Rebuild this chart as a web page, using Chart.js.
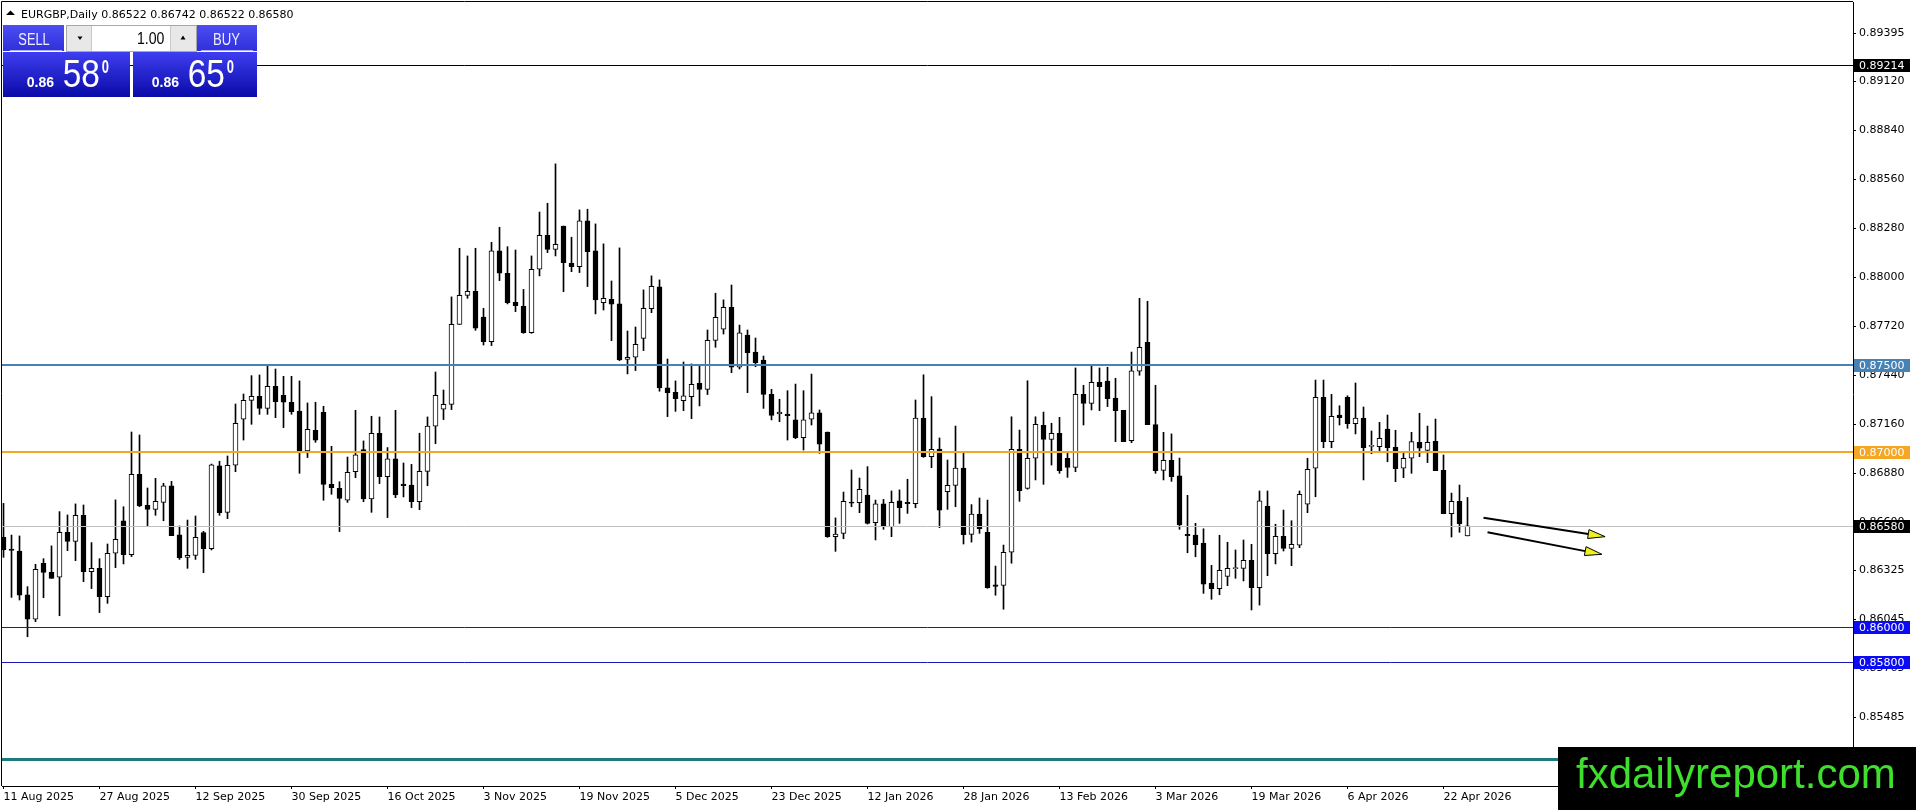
<!DOCTYPE html>
<html>
<head>
<meta charset="utf-8">
<title>EURGBP Daily</title>
<script src="https://cdn.jsdelivr.net/npm/chart.js@4.4.1/dist/chart.umd.min.js"></script>
<style>
  html, body { margin: 0; padding: 0; background: #fff; overflow: hidden; }
  #wrap { position: relative; width: 1916px; height: 810px; }
</style>
</head>
<body>
<div id="wrap"><canvas id="eurgbpChart" width="1916" height="810"></canvas></div>
<script>
// **************************
//    DATA
// **************************
const symbolTitle = "EURGBP,Daily";

const dateLabels = [
    "11 Aug 2025", "27 Aug 2025", "12 Sep 2025", "30 Sep 2025", "16 Oct 2025", "3 Nov 2025",
    "19 Nov 2025", "5 Dec 2025", "23 Dec 2025", "12 Jan 2026", "28 Jan 2026", "13 Feb 2026",
    "3 Mar 2026", "19 Mar 2026", "6 Apr 2026", "22 Apr 2026"
];
const dateLabelBars = [0, 12, 24, 36, 48, 60, 72, 84, 96, 108, 120, 132, 144, 156, 168, 180];

const opens = [
    0.86514, 0.86447, 0.86436, 0.86185, 0.86046, 0.86366, 0.86314, 0.86286, 0.86543, 0.86491,
    0.86640, 0.86318, 0.86337, 0.86175, 0.86423, 0.86608, 0.86415, 0.86874, 0.86697, 0.86674,
    0.86714, 0.86808, 0.86528, 0.86400, 0.86411, 0.86541, 0.86449, 0.86922, 0.86657, 0.86926,
    0.87189, 0.87297, 0.87320, 0.87251, 0.87377, 0.87326, 0.87286, 0.87236, 0.87008, 0.87126,
    0.87229, 0.86817, 0.86794, 0.86726, 0.86889, 0.87015, 0.86733, 0.87109, 0.86861, 0.86962,
    0.86819, 0.86813, 0.86718, 0.86891, 0.87150, 0.87246, 0.87274, 0.87731, 0.87897, 0.87920,
    0.87773, 0.87632, 0.88151, 0.88023, 0.87857, 0.87836, 0.87684, 0.88046, 0.88240, 0.88160,
    0.88293, 0.88080, 0.88061, 0.88322, 0.88151, 0.87855, 0.87874, 0.87848, 0.87531, 0.87543,
    0.87651, 0.87821, 0.87945, 0.87368, 0.87343, 0.87295, 0.87318, 0.87394, 0.87360, 0.87640,
    0.87703, 0.87829, 0.87487, 0.87670, 0.87573, 0.87527, 0.87331, 0.87219, 0.87219, 0.87185,
    0.87083, 0.87189, 0.87225, 0.87116, 0.86518, 0.86537, 0.86716, 0.86712, 0.86756, 0.86598,
    0.86705, 0.86575, 0.86722, 0.86714, 0.86706, 0.87196, 0.86975, 0.87019, 0.86775, 0.86811,
    0.86910, 0.86531, 0.86647, 0.86543, 0.86242, 0.86240, 0.86429, 0.87017, 0.86794, 0.86966,
    0.87154, 0.87074, 0.87109, 0.86966, 0.86914, 0.87331, 0.87280, 0.87400, 0.87407, 0.87310,
    0.87240, 0.87066, 0.87463, 0.87629, 0.87158, 0.86897, 0.86954, 0.86865, 0.86531, 0.86527,
    0.86480, 0.86251, 0.86221, 0.86291, 0.86335, 0.86337, 0.86383, 0.86226, 0.86693, 0.86421,
    0.86520, 0.86451, 0.86470, 0.86703, 0.86909, 0.87314, 0.87061, 0.87213, 0.87314, 0.87163,
    0.87196, 0.87034, 0.87032, 0.87133, 0.87029, 0.86909, 0.86966, 0.87057, 0.87011, 0.87063,
    0.86897, 0.86649, 0.86720, 0.86522
];
const highs = [
    0.86708, 0.86527, 0.86522, 0.86232, 0.86360, 0.86392, 0.86465, 0.86661, 0.86642, 0.86705,
    0.86699, 0.86484, 0.86392, 0.86476, 0.86728, 0.86689, 0.87116, 0.87099, 0.86796, 0.86851,
    0.86823, 0.86834, 0.86579, 0.86613, 0.86636, 0.86548, 0.86933, 0.86949, 0.86979, 0.87276,
    0.87333, 0.87438, 0.87442, 0.87495, 0.87476, 0.87434, 0.87434, 0.87408, 0.87282, 0.87286,
    0.87263, 0.87034, 0.86832, 0.86973, 0.87240, 0.87065, 0.87206, 0.87202, 0.87027, 0.87240,
    0.86939, 0.86931, 0.87109, 0.87202, 0.87459, 0.87356, 0.87888, 0.88166, 0.88122, 0.88166,
    0.87823, 0.88200, 0.88286, 0.88175, 0.88156, 0.87931, 0.88122, 0.88373, 0.88423, 0.88648,
    0.88293, 0.88229, 0.88385, 0.88389, 0.88305, 0.88191, 0.87979, 0.88168, 0.87693, 0.87716,
    0.87928, 0.88008, 0.87985, 0.87533, 0.87408, 0.87516, 0.87505, 0.87495, 0.87699, 0.87909,
    0.87871, 0.87956, 0.87727, 0.87699, 0.87653, 0.87550, 0.87360, 0.87303, 0.87352, 0.87390,
    0.87352, 0.87447, 0.87242, 0.87116, 0.86625, 0.86773, 0.86899, 0.86853, 0.86918, 0.86727,
    0.86731, 0.86779, 0.86785, 0.86846, 0.87299, 0.87443, 0.87318, 0.87082, 0.86956, 0.87150,
    0.87002, 0.86701, 0.86739, 0.86727, 0.86350, 0.86470, 0.87203, 0.87127, 0.87409, 0.87203,
    0.87230, 0.87166, 0.87200, 0.86994, 0.87482, 0.87383, 0.87493, 0.87482, 0.87486, 0.87423,
    0.87240, 0.87573, 0.87880, 0.87863, 0.87383, 0.87114, 0.87105, 0.86967, 0.86754, 0.86594,
    0.86563, 0.86354, 0.86526, 0.86486, 0.86442, 0.86499, 0.86474, 0.86779, 0.86779, 0.86589,
    0.86670, 0.86609, 0.86779, 0.86966, 0.87413, 0.87413, 0.87331, 0.87266, 0.87323, 0.87396,
    0.87259, 0.87122, 0.87171, 0.87213, 0.87126, 0.86996, 0.87114, 0.87223, 0.87150, 0.87190,
    0.86985, 0.86767, 0.86813, 0.86742
];
const lows = [
    0.86400, 0.86171, 0.86156, 0.85946, 0.86032, 0.86169, 0.86280, 0.86066, 0.86438, 0.86381,
    0.86261, 0.86221, 0.86084, 0.86137, 0.86341, 0.86362, 0.86404, 0.86689, 0.86581, 0.86640,
    0.86609, 0.86524, 0.86388, 0.86337, 0.86388, 0.86312, 0.86442, 0.86640, 0.86621, 0.86889,
    0.87070, 0.87160, 0.87217, 0.87217, 0.87198, 0.87141, 0.87217, 0.86880, 0.86970, 0.87057,
    0.86726, 0.86760, 0.86547, 0.86714, 0.86855, 0.86718, 0.86657, 0.86821, 0.86627, 0.86741,
    0.86745, 0.86684, 0.86672, 0.86809, 0.87049, 0.87187, 0.87244, 0.87731, 0.87880, 0.87697,
    0.87613, 0.87610, 0.87981, 0.87848, 0.87804, 0.87680, 0.87680, 0.88008, 0.88141, 0.88122,
    0.87918, 0.88032, 0.88027, 0.87947, 0.87791, 0.87813, 0.87638, 0.87524, 0.87448, 0.87467,
    0.87581, 0.87798, 0.87349, 0.87204, 0.87234, 0.87238, 0.87192, 0.87265, 0.87330, 0.87600,
    0.87676, 0.87455, 0.87476, 0.87341, 0.87489, 0.87251, 0.87185, 0.87175, 0.87070, 0.87078,
    0.87013, 0.87156, 0.86994, 0.86514, 0.86434, 0.86506, 0.86689, 0.86655, 0.86590, 0.86499,
    0.86560, 0.86518, 0.86594, 0.86651, 0.86683, 0.86971, 0.86912, 0.86569, 0.86674, 0.86689,
    0.86476, 0.86487, 0.86537, 0.86223, 0.86183, 0.86103, 0.86366, 0.86720, 0.86789, 0.86842,
    0.86817, 0.86927, 0.86880, 0.86857, 0.86889, 0.87156, 0.87242, 0.87238, 0.87261, 0.87061,
    0.87061, 0.87055, 0.87440, 0.87158, 0.86880, 0.86842, 0.86834, 0.86560, 0.86426, 0.86403,
    0.86194, 0.86160, 0.86186, 0.86238, 0.86280, 0.86265, 0.86099, 0.86127, 0.86295, 0.86362,
    0.86436, 0.86352, 0.86455, 0.86655, 0.86746, 0.87026, 0.87026, 0.87156, 0.87137, 0.87105,
    0.86842, 0.86992, 0.87007, 0.86946, 0.86832, 0.86855, 0.86880, 0.86975, 0.86941, 0.86895,
    0.86649, 0.86516, 0.86543, 0.86522
];
const closes = [
    0.86442, 0.86440, 0.86183, 0.86046, 0.86331, 0.86314, 0.86280, 0.86543, 0.86491, 0.86640,
    0.86318, 0.86337, 0.86175, 0.86423, 0.86503, 0.86415, 0.86874, 0.86693, 0.86674, 0.86720,
    0.86808, 0.86524, 0.86398, 0.86411, 0.86514, 0.86449, 0.86928, 0.86655, 0.86926, 0.87166,
    0.87297, 0.87320, 0.87251, 0.87377, 0.87290, 0.87286, 0.87232, 0.87008, 0.87131, 0.87069,
    0.86817, 0.86798, 0.86737, 0.86886, 0.86985, 0.86733, 0.87109, 0.86861, 0.86962, 0.86756,
    0.86809, 0.86718, 0.86891, 0.87150, 0.87326, 0.87274, 0.87731, 0.87897, 0.87920, 0.87709,
    0.87632, 0.88151, 0.88023, 0.87855, 0.87838, 0.87684, 0.88046, 0.88240, 0.88160, 0.88189,
    0.88084, 0.88061, 0.88322, 0.88147, 0.87871, 0.87880, 0.87846, 0.87528, 0.87543, 0.87617,
    0.87823, 0.87949, 0.87368, 0.87341, 0.87307, 0.87322, 0.87389, 0.87360, 0.87640, 0.87771,
    0.87829, 0.87486, 0.87682, 0.87569, 0.87512, 0.87331, 0.87211, 0.87230, 0.87209, 0.87083,
    0.87185, 0.87225, 0.87046, 0.86518, 0.86533, 0.86720, 0.86709, 0.86789, 0.86594, 0.86705,
    0.86575, 0.86714, 0.86683, 0.86706, 0.87196, 0.86975, 0.87017, 0.86670, 0.86811, 0.86910,
    0.86529, 0.86647, 0.86563, 0.86226, 0.86234, 0.86429, 0.87017, 0.86781, 0.86966, 0.87160,
    0.87074, 0.87109, 0.86895, 0.86914, 0.87331, 0.87280, 0.87400, 0.87375, 0.87306, 0.87238,
    0.87061, 0.87465, 0.87600, 0.87158, 0.86895, 0.86954, 0.86861, 0.86585, 0.86523, 0.86472,
    0.86247, 0.86221, 0.86326, 0.86337, 0.86339, 0.86383, 0.86226, 0.86722, 0.86421, 0.86520,
    0.86451, 0.86474, 0.86760, 0.86903, 0.87314, 0.87061, 0.87206, 0.87198, 0.87163, 0.87196,
    0.87026, 0.87036, 0.87080, 0.87026, 0.86906, 0.86966, 0.87061, 0.87023, 0.87057, 0.86895,
    0.86649, 0.86720, 0.86592, 0.86580
];

// price scale tick values (MT4 style, uneven steps)
const yTickValues = [
    0.89395, 0.89120, 0.88840, 0.88560, 0.88280, 0.88000, 0.87720, 0.87440,
    0.87160, 0.86880, 0.86600, 0.86325, 0.86045, 0.85765, 0.85485
];

// horizontal lines drawn on the chart
const levelPrices = [0.89214, 0.87500, 0.87000, 0.86580, 0.86000, 0.85800, 0.85245];

// trend arrows: [bar, price] start and end
const arrowStarts = [[185.0, 0.86626], [185.5, 0.86543]];
const arrowEnds = [[200.2, 0.86518], [199.8, 0.86417]];

const lotSize = "1.00";
const askPrice = 0.86650;

// **************************
//    STYLE
// **************************
const levelStyles = [
    { color: "#000000", width: 1, box: "#000000" },
    { color: "#4682B4", width: 2, box: "#4682B4" },
    { color: "#F5A623", width: 2, box: "#F5A623" },
    { color: "#C0C0C0", width: 1, box: "#000000" },
    { color: "#1818B8", width: 1, box: "#0A0AF5" },
    { color: "#1818B8", width: 1, box: "#0A0AF5" },
    { color: "#1E7B7B", width: 3, box: null }
];

const BAR_PX = 8;
const xMin = -0.1875;
const xMax = xMin + (1853 - 2) / BAR_PX;
const yMin = 0.8509314;
const yMax = 0.8957314;

Chart.defaults.font.family = "'DejaVu Sans', sans-serif";
Chart.defaults.font.size = 11;
Chart.defaults.color = "#000";

// **************************
//    HELPERS
// **************************
function drawText(ctx, str, x, y, font, color, sx, align) {
    ctx.save();
    ctx.translate(x, y);
    ctx.scale(sx || 1, 1);
    ctx.font = font;
    ctx.fillStyle = color;
    ctx.textAlign = align || "left";
    ctx.textBaseline = "alphabetic";
    ctx.fillText(str, 0, 0);
    ctx.restore();
}

function tri(ctx, pts, color) {
    ctx.beginPath();
    ctx.moveTo(pts[0], pts[1]);
    ctx.lineTo(pts[2], pts[3]);
    ctx.lineTo(pts[4], pts[5]);
    ctx.closePath();
    ctx.fillStyle = color;
    ctx.fill();
}

function splitQuote(price) {
    const s = price.toFixed(5);
    return [s.slice(0, 4), s.slice(4, 6), s.slice(6)];
}

function drawArrow(ctx, x1, y1, x2, y2) {
    const ang = Math.atan2(y2 - y1, x2 - x1);
    const headLen = 17, half = 4.5;
    const bx = x2 - headLen * Math.cos(ang);
    const by = y2 - headLen * Math.sin(ang);
    ctx.strokeStyle = "#000";
    ctx.lineWidth = 2;
    ctx.beginPath();
    ctx.moveTo(x1, y1);
    ctx.lineTo(bx, by);
    ctx.stroke();
    ctx.beginPath();
    ctx.moveTo(x2, y2);
    ctx.lineTo(bx + half * Math.sin(ang), by - half * Math.cos(ang));
    ctx.lineTo(bx - half * Math.sin(ang), by + half * Math.cos(ang));
    ctx.closePath();
    ctx.fillStyle = "#F0F020";
    ctx.fill();
    ctx.lineWidth = 1;
    ctx.stroke();
}

function drawTitle(ctx) {
    const last = opens.length - 1;
    tri(ctx, [6, 15, 15, 15, 10.5, 10.5], "#000");
    const ohlc = [opens[last], highs[last], lows[last], closes[last]].map(v => v.toFixed(5)).join(" ");
    drawText(ctx, symbolTitle + " " + ohlc, 21, 17.5, "11px 'DejaVu Sans'", "#000");
}

function drawTradePanel(ctx) {
    ctx.save();
    // top row buttons
    const btn = ctx.createLinearGradient(0, 25, 0, 51);
    btn.addColorStop(0, "#4d4df2");
    btn.addColorStop(1, "#3030dc");
    ctx.fillStyle = btn;
    ctx.fillRect(3, 25, 61, 26);
    ctx.fillRect(197, 25, 60, 26);
    ctx.strokeStyle = "rgba(190,190,255,0.9)";
    ctx.lineWidth = 1;
    ctx.beginPath();
    ctx.moveTo(10, 50.5); ctx.lineTo(62, 50.5);
    ctx.moveTo(201, 50.5); ctx.lineTo(253, 50.5);
    ctx.stroke();
    drawText(ctx, "SELL", 34, 45, "16px 'Liberation Sans'", "#eef", 0.8, "center");
    drawText(ctx, "BUY", 226.5, 45, "16px 'Liberation Sans'", "#eef", 0.82, "center");

    // lot size spinner
    ctx.fillStyle = "#e8e8e8";
    ctx.fillRect(67, 25, 130, 27);
    ctx.fillStyle = "#fff";
    ctx.fillRect(92, 26, 78, 25);
    ctx.strokeStyle = "#a8a8a8";
    ctx.strokeRect(66.5, 25.5, 130, 26);
    ctx.strokeStyle = "#c8c8c8";
    ctx.beginPath();
    ctx.moveTo(91.5, 26); ctx.lineTo(91.5, 51);
    ctx.moveTo(170.5, 26); ctx.lineTo(170.5, 51);
    ctx.stroke();
    tri(ctx, [77.5, 36.5, 82.5, 36.5, 80, 40], "#000");
    tri(ctx, [180.5, 39.5, 185.5, 39.5, 183, 35.5], "#000");
    drawText(ctx, lotSize, 164.3, 43.5, "16px 'Liberation Sans'", "#000", 0.88, "right");

    // quote boxes
    const q = ctx.createLinearGradient(0, 52, 0, 97);
    q.addColorStop(0, "#3e3ef0");
    q.addColorStop(1, "#0a0aa8");
    ctx.fillStyle = q;
    ctx.fillRect(3, 52, 127, 45);
    ctx.fillRect(133, 52, 124, 45);

    const bid = splitQuote(closes[closes.length - 1]);
    const ask = splitQuote(askPrice);
    [[bid, 26.7], [ask, 151.7]].forEach(([parts, x0]) => {
        drawText(ctx, parts[0], x0, 87.3, "bold 14px 'Liberation Sans'", "#fff");
        drawText(ctx, parts[1], x0 + 36, 87.3, "38px 'Liberation Sans'", "#fff", 0.88);
        drawText(ctx, parts[2], x0 + 75, 73, "bold 18px 'Liberation Sans'", "#fff", 0.72);
    });
    ctx.restore();
}

function drawWatermark(ctx) {
    ctx.fillStyle = "#000";
    ctx.fillRect(1558, 747, 358, 63);
    drawText(ctx, "fxdailyreport.com", 1576, 788, "42px 'Liberation Sans'", "#3FDF2E");
}

// drop the half-label padding Chart.js reserves at the axis ends
function fixAxis(size) {
    return s => {
        if (s.isHorizontal()) s.height = size; else s.width = size;
        s.paddingTop = 0; s.paddingBottom = 0; s.paddingLeft = 0; s.paddingRight = 0;
    };
}

// **************************
//    OVERLAY PLUGIN
// **************************
const mtOverlay = {
    id: "mtOverlay",
    afterDatasetsDraw(chart) {
        const { ctx, chartArea: a, scales: { x, y } } = chart;
        ctx.save();

        // horizontal levels
        levelPrices.forEach((p, i) => {
            const st = levelStyles[i];
            const py = y.getPixelForValue(p);
            const yy = st.width % 2 ? Math.round(py) + 0.5 : Math.round(py);
            ctx.strokeStyle = st.color;
            ctx.lineWidth = st.width;
            ctx.beginPath();
            ctx.moveTo(a.left, yy);
            ctx.lineTo(a.right, yy);
            ctx.stroke();
        });

        // arrows
        arrowStarts.forEach((s, i) => {
            const e = arrowEnds[i];
            drawArrow(ctx,
                x.getPixelForValue(s[0]), y.getPixelForValue(s[1]),
                x.getPixelForValue(e[0]), y.getPixelForValue(e[1]));
        });

        // frame left + top
        ctx.strokeStyle = "#000";
        ctx.lineWidth = 1;
        ctx.beginPath();
        ctx.moveTo(a.left - 0.5, a.bottom);
        ctx.lineTo(a.left - 0.5, a.top - 0.5);
        ctx.lineTo(a.right, a.top - 0.5);
        ctx.stroke();

        // price tags on the axis
        ctx.font = "11px 'DejaVu Sans'";
        ctx.textBaseline = "middle";
        ctx.textAlign = "left";
        levelPrices.forEach((p, i) => {
            const st = levelStyles[i];
            if (!st.box) return;
            const py = Math.round(y.getPixelForValue(p));
            ctx.fillStyle = st.box;
            ctx.fillRect(a.right + 1, py - 6, 56, 13);
            ctx.fillStyle = "#fff";
            ctx.fillText(p.toFixed(5), a.right + 6, py + 1);
        });
        ctx.restore();
    },
    afterDraw(chart) {
        const ctx = chart.ctx;
        drawTitle(ctx);
        drawTradePanel(ctx);
        drawWatermark(ctx);
    }
};

// **************************
//    CHART
// **************************
const barIdx = opens.map((_, i) => i);
const bodyFill = barIdx.map(i => closes[i] > opens[i] ? "#ffffff" : "#000000");

new Chart(document.getElementById("eurgbpChart"), {
    type: "bar",
    data: {
        datasets: [
            {
                label: "body",
                data: barIdx.map(i => ({ x: i, y: [opens[i], closes[i]] })),
                backgroundColor: bodyFill,
                borderColor: "#000",
                borderWidth: 1,
                borderSkipped: false,
                barThickness: 5,
                minBarLength: 1,
                grouped: false
            },
            {
                label: "wick",
                data: barIdx.map(i => ({ x: i, y: [lows[i], highs[i]] })),
                backgroundColor: "#000",
                borderWidth: 0,
                barThickness: 1,
                grouped: false
            }
        ]
    },
    options: {
        responsive: false,
        animation: false,
        layout: { padding: { left: 2, top: 2, right: 0, bottom: 0 } },
        plugins: { legend: { display: false }, tooltip: { enabled: false } },
        scales: {
            x: {
                type: "linear",
                min: xMin,
                max: xMax,
                bounds: "data",
                offset: false,
                afterFit: fixAxis(24),
                afterBuildTicks: s => { s.ticks = dateLabelBars.map(v => ({ value: v })); },
                grid: { drawOnChartArea: false, drawTicks: true, tickLength: 3, color: "#000", offset: false },
                border: { display: true, color: "#000" },
                ticks: {
                    autoSkip: false, maxRotation: 0, minRotation: 0, align: "start", padding: 2,
                    callback: (v, i) => dateLabels[i]
                }
            },
            y: {
                position: "right",
                min: yMin,
                max: yMax,
                bounds: "data",
                afterFit: fixAxis(63),
                afterBuildTicks: s => { s.ticks = yTickValues.map(v => ({ value: v })); },
                grid: { drawOnChartArea: false, drawTicks: true, tickLength: 3, color: "#000" },
                border: { display: true, color: "#000" },
                ticks: { autoSkip: false, padding: 3, callback: v => v.toFixed(5) }
            }
        }
    },
    plugins: [mtOverlay]
});
</script>
</body>
</html>
